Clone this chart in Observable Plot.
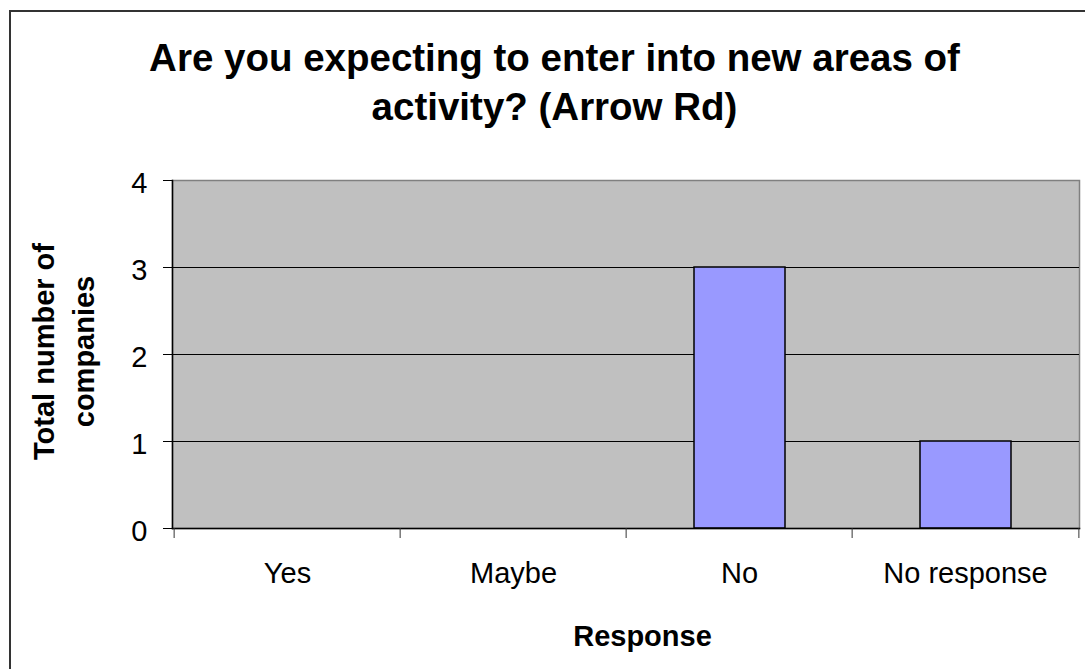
<!DOCTYPE html>
<html>
<head>
<meta charset="utf-8">
<script src="https://cdn.jsdelivr.net/npm/d3@7"></script>
<script src="https://cdn.jsdelivr.net/npm/@observablehq/plot@0.6"></script>
<style>
  html, body { margin: 0; padding: 0; background: #ffffff; }
  #wrap { position: relative; width: 1085px; height: 669px; overflow: hidden; }
  #border { position: absolute; left: 9px; top: 10px; right: -10px; bottom: -10px;
            border-left: 2px solid #333; border-top: 2px solid #333; pointer-events: none; }
</style>
</head>
<body>
<div id="wrap"><div id="chart"></div><div id="border"></div></div>
<script>
const categories = ["Yes", "Maybe", "No", "No response"];
const counts = [0, 0, 3, 1];
const yTicks = [0, 1, 2, 3, 4];
const gridTicks = [1, 2, 3];
const titleText = "Are you expecting to enter into new areas of\nactivity? (Arrow Rd)";
const yTitleText = "Total number of\ncompanies";
const xTitleText = "Response";

const data = categories.map((c, i) => ({category: c, count: counts[i]}));

const W = 1085, H = 669, ML = 172, MR = 6, MT = 180, MB = 141;
const bw = (W - ML - MR) / categories.length;

const chart = Plot.plot({
  width: W,
  height: H,
  marginLeft: ML,
  marginRight: MR,
  marginTop: MT,
  marginBottom: MB,
  style: {fontFamily: "'Liberation Sans', Arial, sans-serif", fontSize: "29px", background: "transparent", color: "#000"},
  x: {domain: categories, padding: 0, label: null},
  y: {domain: [0, 4], label: null},
  marks: [
    Plot.frame({fill: "#C0C0C0", stroke: "#808080", strokeWidth: 1.5}),
    Plot.gridY(gridTicks, {stroke: "#000", strokeOpacity: 1, strokeWidth: 1}),
    Plot.barY(data, {x: "category", y: "count", fill: "#9999FF", stroke: "#000", strokeWidth: 1.5, insetLeft: 68, insetRight: 67}),
    Plot.frame({anchor: "left", stroke: "#000", strokeWidth: 1.5}),
    Plot.frame({anchor: "bottom", stroke: "#000", strokeWidth: 1.5}),
    Plot.axisY(yTicks, {tickSize: 9, tickFormat: () => "", label: null, stroke: "#000"}),
    Plot.axisY(yTicks, {tickSize: 0, tickPadding: 25, dy: 3, label: null, fontSize: 29, tickFormat: d3.format("d")}),
    Plot.axisX(categories, {tickSize: 10, tickFormat: () => "", dx: -bw / 2, label: null, stroke: "#333"}),
    Plot.axisX([categories[categories.length - 1]], {tickSize: 10, tickFormat: () => "", dx: bw / 2, label: null, stroke: "#333"}),
    Plot.axisX(categories, {tickSize: 0, tickPadding: 34, label: null, fontSize: 29}),
    Plot.text([titleText], {text: d => d, frameAnchor: "top", lineAnchor: "bottom", textAnchor: "middle",
      dx: -71.5, dy: -61, fontSize: 38.5, fontWeight: "bold", lineHeight: 1.25}),
    Plot.text([yTitleText], {text: d => d, frameAnchor: "left", rotate: -90, lineAnchor: "bottom", textAnchor: "middle",
      dx: -79, dy: -3, fontSize: 29, fontWeight: "bold", lineHeight: 1.36}),
    Plot.text([xTitleText], {text: d => d, frameAnchor: "bottom", lineAnchor: "bottom", textAnchor: "middle",
      dx: 16.5, dy: 117, fontSize: 29, fontWeight: "bold"})
  ]
});
document.getElementById("chart").appendChild(chart);
</script>
</body>
</html>
